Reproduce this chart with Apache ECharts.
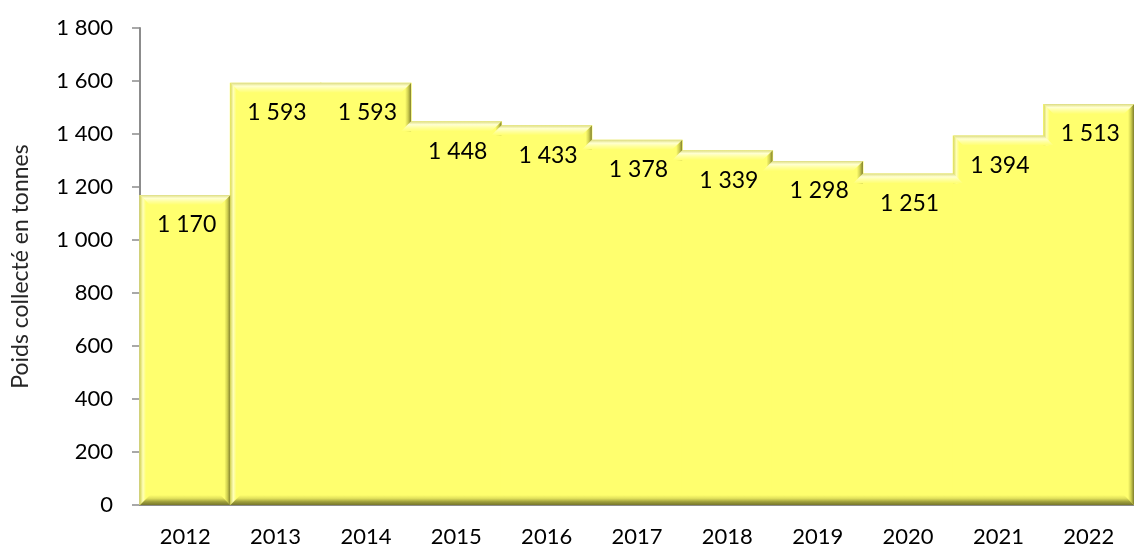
<!DOCTYPE html>
<html style="height: 100%">
<head>
    <meta charset="utf-8">
    <script type="text/javascript" src="https://cdn.jsdelivr.net/npm/echarts@6/dist/echarts.min.js"></script>
</head>
<body style="height: 100%; margin: 0; background: #fff">
<div id="container" style="height: 549px;width: 1134px;position: absolute;top: 0;left:0px;"></div>
<script type="text/javascript">
    var annees = ['2012', '2013', '2014', '2015', '2016', '2017', '2018', '2019', '2020', '2021', '2022'];
    var poids = [1170, 1593, 1593, 1448, 1433, 1378, 1339, 1298, 1251, 1394, 1513];
    var graduations = [0, 200, 400, 600, 800, 1000, 1200, 1400, 1600, 1800];

    // separateur de milliers : espace
    function fmt(v) {
        return String(v).replace(/\B(?=(\d{3})+(?!\d))/g, ' ');
    }

    var FACE = '#FFFF6E';
    var dom = document.getElementById("container");
    var myChart = echarts.init(dom);

    function grad(x2, y2, stops) {
        return new echarts.graphic.LinearGradient(0, 0, x2, y2, stops.map(function (c, k) {
            return {offset: k / (stops.length - 1), color: c};
        }));
    }

    // barres "en escalier" avec biseau, facon Excel
    function renderBar(params, api) {
        var i = api.value(0), v = api.value(1);
        var n = poids.length;
        var prev = i > 0 ? poids[i - 1] : null;
        var next = i < n - 1 ? poids[i + 1] : null;
        var base = api.coord([i, 0]);
        var top = api.coord([i, v]);
        var w = api.size([1, 0])[0];
        var l = top[0] - w / 2, r = top[0] + w / 2, t = top[1], b = base[1];
        var tPrev = prev !== null ? api.coord([i - 1, prev])[1] : b;
        var tNext = next !== null ? api.coord([i + 1, next])[1] : b;
        var d = 10, s = 6;
        var alone = (i === 0);             // la 1re barre est detachee
        var afterAlone = (i === 1);

        var kids = [];
        // face (legerement elargie pour eviter les joints)
        kids.push({type: 'rect', shape: {x: l - 0.6, y: t, width: r - l + 1.2, height: b - t}, style: {fill: FACE}});

        // cote gauche (clair)
        var lb = null;
        if (alone || afterAlone) lb = b;
        else if (prev < v) lb = tPrev + d;
        if (lb !== null) {
            kids.push({type: 'polygon', z2: 2,
                shape: {points: [[l, t], [l + s, t + s], [l + s, lb - (lb === b ? s : 0)], [l, lb]]},
                style: {fill: grad(1, 0, ['#D6D65E', '#FFFFB8', FACE])}});
        }
        // cote droit (sombre)
        var rb = null;
        if (alone || next === null) rb = b;
        else if (next < v) rb = tNext + d;
        if (rb !== null) {
            kids.push({type: 'polygon', z2: 2,
                shape: {points: [[r, t], [r, rb], [r - s, rb - (rb === b ? s : 0)], [r - s, t + s]]},
                style: {fill: grad(1, 0, [FACE, '#CFCF50', '#7E7E2C'])}});
        }
        // bande du haut
        var bl, br;
        if (alone || afterAlone || prev < v) bl = l + d;
        else if (prev === v) bl = l - 0.6;
        else bl = l - d;
        if (alone || next === null || next < v) br = r - d;
        else if (next === v) br = r + 0.6;
        else br = r + d;
        var tl = (prev === v) ? l - 0.6 : l, tr = (next === v) ? r + 0.6 : r;
        kids.push({type: 'polygon', z2: 3,
            shape: {points: [[tl, t], [tr, t], [br, t + d], [bl, t + d]]},
            style: {fill: grad(0, 1, ['#DCDC80', '#FFFFD0', '#FFFF9A', FACE])}});
        // bande du bas
        var el = (alone || afterAlone) ? l + d : l - 0.6;
        var er = (alone || next === null) ? r - d : r + 0.6;
        var bl2 = (alone || afterAlone) ? l : l - 0.6, br2 = (alone || next === null) ? r : r + 0.6;
        kids.push({type: 'polygon', z2: 3,
            shape: {points: [[bl2, b], [br2, b], [er, b - d], [el, b - d]]},
            style: {fill: grad(0, 1, [FACE, '#E2E25C', '#A0A03C', '#76762C'])}});
        // etiquette
        kids.push({type: 'text', x: l + 17, y: t + 30, z2: 5,
            style: {text: fmt(v), fill: '#000', font: '23px Lato, "Open Sans", sans-serif',
                verticalAlign: 'middle', align: 'left'}});
        return {type: 'group', children: kids};
    }

    var option = {
        animation: false,
        grid: {left: 140, right: -7, top: 28, bottom: 44},
        xAxis: {
            type: 'category',
            data: annees,
            axisLine: {show: true, lineStyle: {color: '#8C8C8C', width: 2}},
            axisTick: {show: false},
            axisLabel: {color: '#000', fontSize: 22, fontFamily: 'Lato', margin: 21}
        },
        yAxis: {
            type: 'value',
            min: graduations[0],
            max: graduations[graduations.length - 1],
            interval: 200,
            name: 'Poids collecté en tonnes',
            nameLocation: 'middle',
            nameRotate: 90,
            nameGap: 108,
            nameTextStyle: {color: '#262626', fontSize: 23, fontFamily: 'Lato', fontWeight: 'normal'},
            axisLine: {show: true, lineStyle: {color: '#8C8C8C', width: 2}},
            axisTick: {show: true, length: 8, lineStyle: {color: '#8C8C8C', width: 1.5}},
            splitLine: {show: false},
            axisLabel: {color: '#000', fontSize: 22, fontFamily: 'Lato', margin: 27, formatter: fmt}
        },
        series: [{
            type: 'custom',
            renderItem: renderBar,
            encode: {x: 0, y: 1},
            data: poids.map(function (v, i) { return [i, v]; })
        }]
    };
    myChart.setOption(option, true);
</script>
</body>
</html>
